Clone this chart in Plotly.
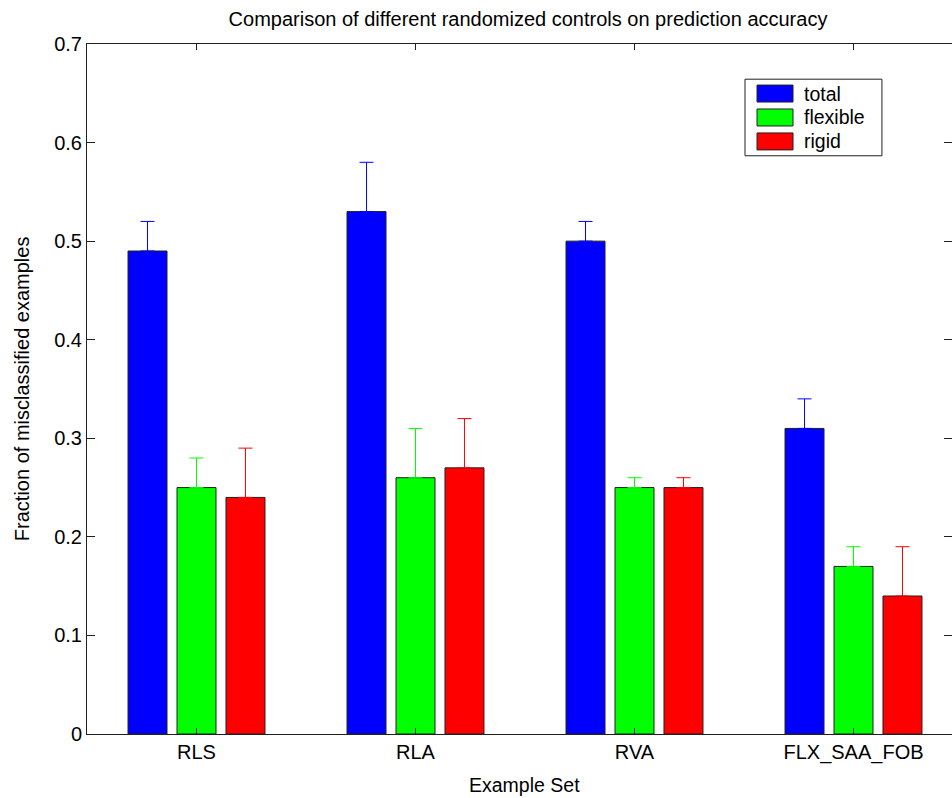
import plotly.graph_objects as go

# Example sets and misclassification fractions with upper error extents
categories = ["RLS", "RLA", "RVA", "FLX_SAA_FOB"]
series_names = ["total", "flexible", "rigid"]
series_colors = ["#0000ff", "#00ff00", "#ff0000"]
total = [0.49, 0.53, 0.50, 0.31]
flexible = [0.25, 0.26, 0.25, 0.17]
rigid = [0.24, 0.27, 0.25, 0.14]
total_err = [0.03, 0.05, 0.02, 0.03]
flexible_err = [0.03, 0.05, 0.01, 0.02]
rigid_err = [0.05, 0.05, 0.01, 0.05]

values = [total, flexible, rigid]
errors = [total_err, flexible_err, rigid_err]
xpos = list(range(1, len(categories) + 1))

FONT = "Arial, Liberation Sans, sans-serif"

fig = go.Figure()
for name, color, vals, errs in zip(series_names, series_colors, values, errors):
    fig.add_trace(go.Bar(
        x=xpos, y=vals, name=name,
        marker=dict(color=color, line=dict(color="#202020", width=1)),
        error_y=dict(type="data", array=errs, arrayminus=[0] * len(errs),
                     symmetric=False, color=color, thickness=1, width=7),
        showlegend=False,
    ))

# Boxed legend in the upper right corner
lx0, lx1, ly0, ly1 = 0.7607, 0.919, 0.838, 0.949
shapes = [dict(type="rect", xref="paper", yref="paper", x0=lx0, x1=lx1, y0=ly0, y1=ly1,
               line=dict(color="#202020", width=1), fillcolor="white", layer="above")]
annotations = []
row_h = (ly1 - ly0) / 3.2
for i, (name, color) in enumerate(zip(series_names, series_colors)):
    yc = ly1 - row_h * (i + 0.6)
    shapes.append(dict(type="rect", xref="paper", yref="paper",
                       x0=0.7746, x1=0.8162, y0=yc - 0.0123, y1=yc + 0.0123,
                       line=dict(color="#202020", width=1), fillcolor=color, layer="above"))
    annotations.append(dict(xref="paper", yref="paper", x=0.8266, y=yc, text=name,
                            showarrow=False, xanchor="left", yanchor="middle",
                            font=dict(family=FONT, size=19.5, color="black")))

# Axis titles
annotations.append(dict(xref="paper", yref="paper", x=(524 - 87) / 865, y=-64 / 690,
                        text="Example Set", showarrow=False, xanchor="center", yanchor="bottom",
                        font=dict(family=FONT, size=19.5, color="black")))
annotations.append(dict(xref="paper", yref="paper", x=-0.075, y=0.5,
                        text="Fraction of misclassified examples", showarrow=False,
                        textangle=-90, xanchor="center", yanchor="middle",
                        font=dict(family=FONT, size=20, color="black")))

fig.update_layout(
    width=952, height=798,
    margin=dict(l=87, r=0, t=44, b=64),
    paper_bgcolor="white", plot_bgcolor="white",
    barmode="group", bargap=0.329, bargroupgap=0.204,
    title=dict(text="Comparison of different randomized controls on prediction accuracy",
               x=528 / 952, xanchor="center", y=1 - 19 / 798, yanchor="middle",
               font=dict(family=FONT, size=20, color="black")),
    font=dict(family=FONT, size=20, color="black"),
    shapes=shapes, annotations=annotations,
)
fig.update_xaxes(
    range=[0.5, 0.5 + 865 / 219], tickvals=xpos, ticktext=categories,
    showline=True, linecolor="#202020", linewidth=1, mirror="ticks",
    ticks="inside", ticklen=6, tickcolor="#202020", showgrid=False, zeroline=False,
    tickfont=dict(family=FONT, size=20, color="black"),
)
fig.update_yaxes(
    range=[0, 0.7], tickvals=[0, 0.1, 0.2, 0.3, 0.4, 0.5, 0.6, 0.7],
    ticktext=["0", "0.1", "0.2", "0.3", "0.4", "0.5", "0.6", "0.7"],
    showline=True, linecolor="#202020", linewidth=1, mirror="ticks",
    ticks="inside", ticklen=8, tickcolor="#202020", showgrid=False, zeroline=False,
    tickfont=dict(family=FONT, size=20, color="black"),
)

fig.write_html("out.html")
